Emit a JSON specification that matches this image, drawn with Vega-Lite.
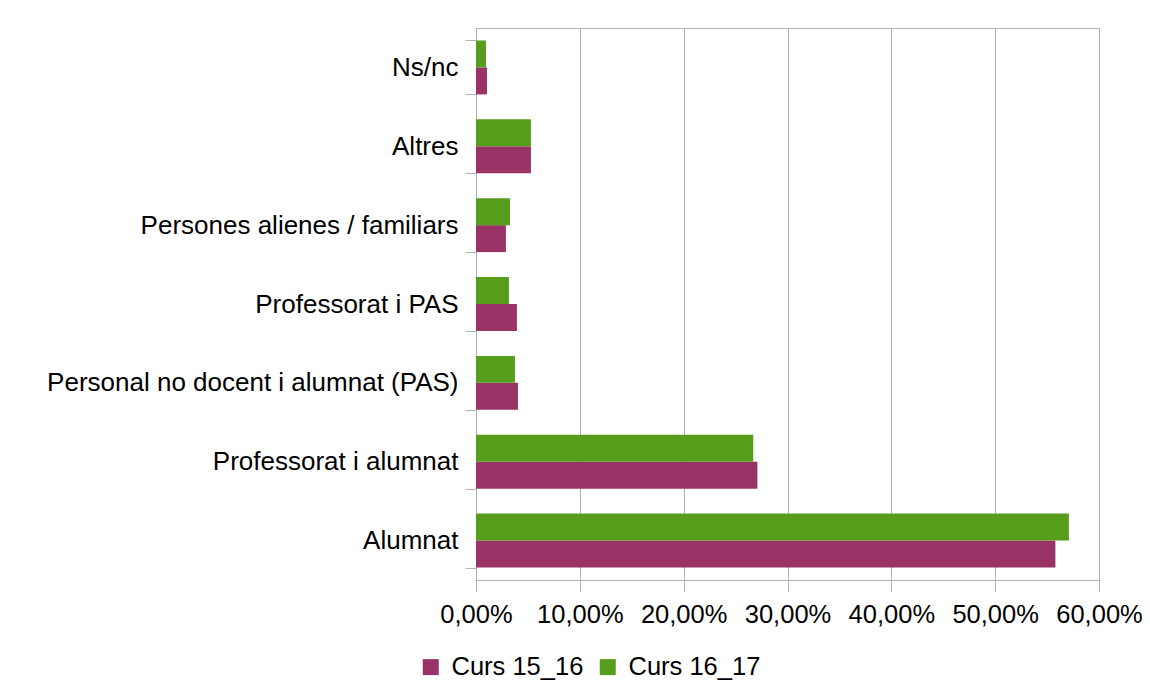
{
  "$schema": "https://vega.github.io/schema/vega-lite/v6.json",
  "autosize": {"type": "none"},
  "padding": {"left": 476, "top": 28, "right": 51, "bottom": 111},
  "width": 623,
  "height": 552,
  "background": "white",
  "data": {"values": [
    {"categoria": "Ns/nc", "curs": "Curs 15_16", "valor": 0.0106},
    {"categoria": "Ns/nc", "curs": "Curs 16_17", "valor": 0.0096},
    {"categoria": "Altres", "curs": "Curs 15_16", "valor": 0.0529},
    {"categoria": "Altres", "curs": "Curs 16_17", "valor": 0.0529},
    {"categoria": "Persones alienes / familiars", "curs": "Curs 15_16", "valor": 0.0288},
    {"categoria": "Persones alienes / familiars", "curs": "Curs 16_17", "valor": 0.0327},
    {"categoria": "Professorat i PAS", "curs": "Curs 15_16", "valor": 0.0394},
    {"categoria": "Professorat i PAS", "curs": "Curs 16_17", "valor": 0.0317},
    {"categoria": "Personal no docent i alumnat (PAS)", "curs": "Curs 15_16", "valor": 0.0404},
    {"categoria": "Personal no docent i alumnat (PAS)", "curs": "Curs 16_17", "valor": 0.0375},
    {"categoria": "Professorat i alumnat", "curs": "Curs 15_16", "valor": 0.271},
    {"categoria": "Professorat i alumnat", "curs": "Curs 16_17", "valor": 0.267},
    {"categoria": "Alumnat", "curs": "Curs 15_16", "valor": 0.558},
    {"categoria": "Alumnat", "curs": "Curs 16_17", "valor": 0.571}
  ]},
  "mark": {"type": "bar"},
  "encoding": {
    "y": {
      "field": "categoria",
      "type": "nominal",
      "sort": ["Ns/nc", "Altres", "Persones alienes / familiars", "Professorat i PAS", "Personal no docent i alumnat (PAS)", "Professorat i alumnat", "Alumnat"],
      "scale": {"paddingInner": 0.316, "paddingOuter": 0.158},
      "axis": {
        "title": null,
        "domainColor": "#b3b3b3",
        "domainWidth": 1,
        "tickColor": "#b3b3b3",
        "tickBand": "extent",
        "tickSize": 11,
        "labelFont": "Liberation Sans",
        "labelFontSize": 26,
        "labelColor": "#000000",
        "labelPadding": 7,
        "labelLimit": 600,
        "grid": false
      }
    },
    "yOffset": {
      "field": "curs",
      "type": "nominal",
      "sort": ["Curs 16_17", "Curs 15_16"]
    },
    "x": {
      "field": "valor",
      "type": "quantitative",
      "scale": {"domain": [0, 0.6], "nice": false},
      "axis": {
        "title": null,
        "values": [0, 0.1, 0.2, 0.3, 0.4, 0.5, 0.6],
        "labelExpr": "replace(format(datum.value, '.2%'), '.', ',')",
        "domainColor": "#b3b3b3",
        "tickColor": "#b3b3b3",
        "tickSize": 11,
        "gridColor": "#b3b3b3",
        "gridWidth": 1,
        "labelFont": "Liberation Sans",
        "labelFontSize": 25.5,
        "labelColor": "#000000",
        "labelPadding": 11,
        "labelFlush": false
      }
    },
    "color": {
      "field": "curs",
      "type": "nominal",
      "scale": {"domain": ["Curs 15_16", "Curs 16_17"], "range": ["#993366", "#579d1c"]},
      "legend": {
        "title": null,
        "orient": "none",
        "direction": "horizontal",
        "legendX": -58,
        "legendY": 626,
        "padding": 0,
        "symbolType": "square",
        "symbolSize": 256,
        "symbolStrokeWidth": 0,
        "symbolOpacity": 1,
        "labelFont": "Liberation Sans",
        "labelFontSize": 25.5,
        "labelColor": "#000000",
        "labelOffset": 8,
        "columnPadding": 11
      }
    }
  },
  "config": {
    "view": {"stroke": "#b3b3b3", "strokeWidth": 1}
  }
}
